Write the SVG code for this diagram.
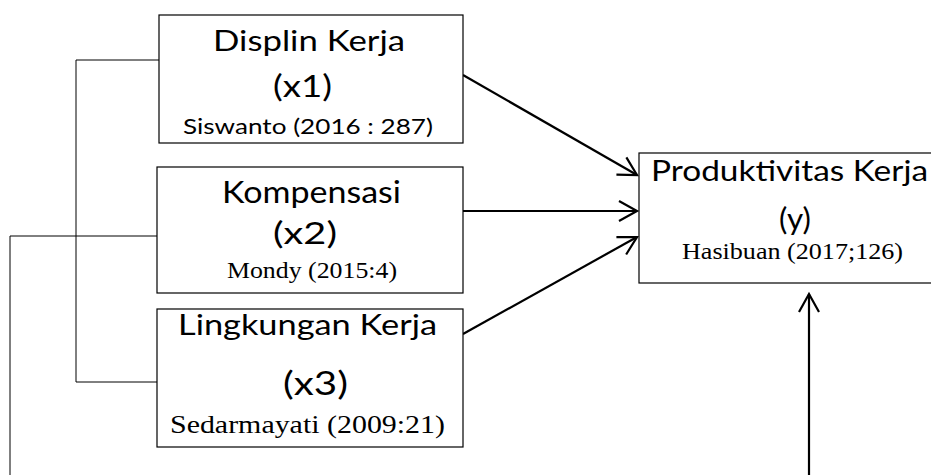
<svg xmlns="http://www.w3.org/2000/svg" width="931" height="475" viewBox="0 0 931 475">
<style>
.box{fill:#fff;stroke:#000;stroke-width:1.2}
.sans{font-family:Lato,"Open Sans",sans-serif;fill:#000}
.serif{font-family:"Liberation Serif","Times New Roman",serif;fill:#000}
.thin{fill:none;stroke:#000;stroke-width:1}
.arr{fill:none;stroke:#000;stroke-width:2.2;marker-end:url(#ah)}
</style>
<defs>
<marker id="ah" markerUnits="userSpaceOnUse" markerWidth="30" markerHeight="30" refX="0" refY="0" viewBox="-22 -15 26 30" orient="auto" overflow="visible">
<path d="M-18,-10 L0,0 L-18,10" fill="none" stroke="#000" stroke-width="2.2"/>
</marker>
</defs>
<rect width="931" height="475" fill="#fff"/>
<g id="connectors">
<polyline class="thin" points="159,60 76,60 76,382 157,382"/>
<polyline class="thin" points="157,236 10,236 10,475"/>
<line class="arr" x1="463" y1="75" x2="637" y2="175"/>
<line class="arr" x1="463" y1="211" x2="637" y2="211"/>
<line class="arr" x1="463" y1="334" x2="637" y2="237"/>
<line class="arr" x1="809" y1="475" x2="809" y2="294"/>
</g>
<g id="node-x1">
<rect class="box" x="159" y="15" width="304" height="128"/>
<text class="sans" x="213" y="51" font-size="29" textLength="192" lengthAdjust="spacingAndGlyphs">Displin Kerja</text>
<text class="sans" x="273" y="97" font-size="30" textLength="59" lengthAdjust="spacingAndGlyphs">(x1)</text>
<text class="sans" x="183" y="134" font-size="22" textLength="250" lengthAdjust="spacingAndGlyphs">Siswanto (2016 : 287)</text>
</g>
<g id="node-x2">
<rect class="box" x="157" y="167" width="306" height="126"/>
<text class="sans" x="222" y="203" font-size="30" textLength="179" lengthAdjust="spacingAndGlyphs">Kompensasi</text>
<text class="sans" x="273" y="244" font-size="30" textLength="64" lengthAdjust="spacingAndGlyphs">(x2)</text>
<text class="serif" x="227" y="278" font-size="23" textLength="170" lengthAdjust="spacingAndGlyphs">Mondy (2015:4)</text>
</g>
<g id="node-x3">
<rect class="box" x="157" y="309" width="306" height="138"/>
<text class="sans" x="178" y="335" font-size="29" textLength="259" lengthAdjust="spacingAndGlyphs">Lingkungan Kerja</text>
<text class="sans" x="283" y="395" font-size="32" textLength="65" lengthAdjust="spacingAndGlyphs">(x3)</text>
<text class="serif" x="170" y="433" font-size="25" textLength="275" lengthAdjust="spacingAndGlyphs">Sedarmayati  (2009:21)</text>
</g>
<g id="node-y">
<rect class="box" x="639" y="153" width="320" height="130"/>
<text class="sans" x="651" y="181" font-size="29" textLength="277" lengthAdjust="spacingAndGlyphs">Produktivitas Kerja</text>
<text class="sans" x="779" y="230" font-size="31" textLength="32" lengthAdjust="spacingAndGlyphs">(y)</text>
<text class="serif" x="682" y="259" font-size="23" textLength="221" lengthAdjust="spacingAndGlyphs">Hasibuan (2017;126)</text>
</g>
</svg>
